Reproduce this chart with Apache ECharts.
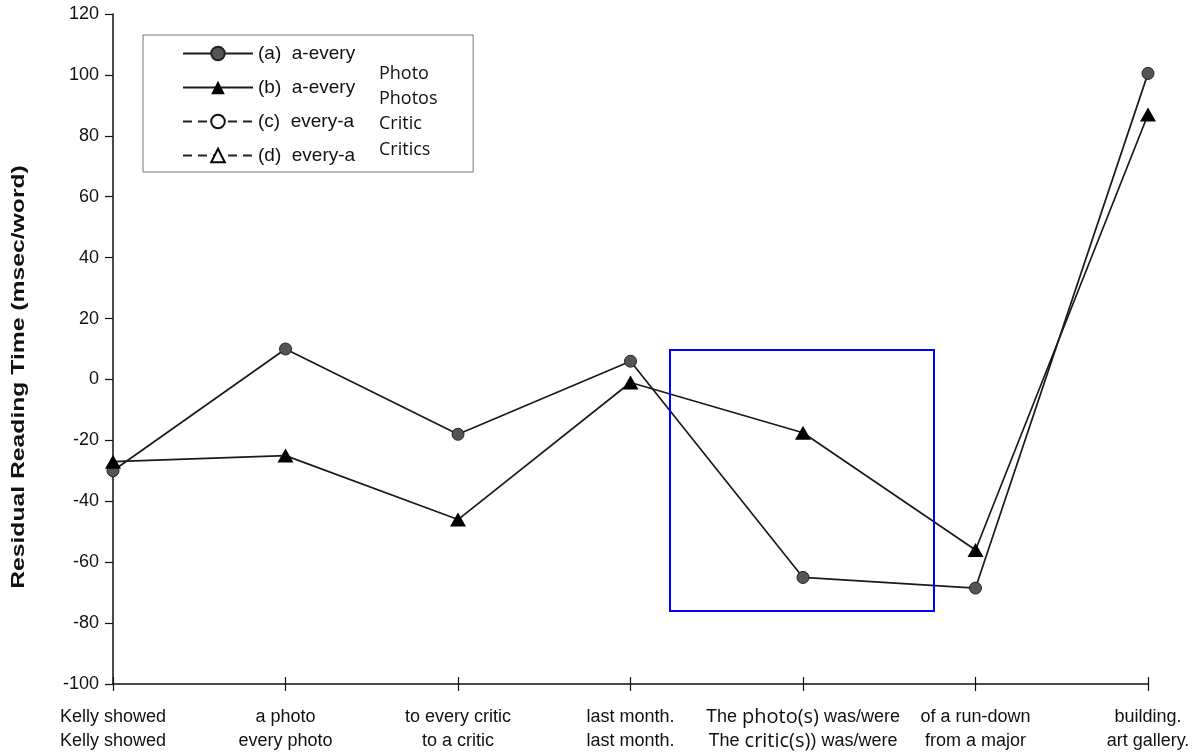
<!DOCTYPE html>
<html>
<head>
<meta charset="utf-8">
<script src="https://cdn.jsdelivr.net/npm/echarts@6/dist/echarts.min.js"></script>
<style>
	html, body { margin: 0; padding: 0; background: #fff; }
	#main { width: 1204px; height: 753px; }
</style>
</head>
<body>
<div id="main"></div>
<script>
var chart = echarts.init(document.getElementById('main'));

// x categories (two lines per position)
var line1 = ['Kelly showed', 'a photo', 'to every critic', 'last month.', 'The photo(s) was/were', 'of a run-down', 'building.'];
var line2 = ['Kelly showed', 'every photo', 'to a critic', 'last month.', 'The critic(s)) was/were', 'from a major', 'art gallery.'];

// residual reading times (msec/word)
var aEvery1 = [-30, 10, -18, 6, -65, -68.5, 100.5];   // (a) circles
var aEvery2 = [-27, -25, -46, -1, -17.5, -56, 87];    // (b) triangles
var everyA1 = [];   // (c) only in legend
var everyA2 = [];   // (d) only in legend

var names = ['(a)  a-every', '(b)  a-every', '(c)  every-a', '(d)  every-a'];
var legendNotes = ['Photo', 'Photos', 'Critic', 'Critics'];

var yMin = -100, yMax = 120, yStep = 20;

var cats = line1.map(function (t, i) { return t + '\n' + line2[i]; });

var font = '"Liberation Sans", Arial, sans-serif';

var option = {
	animation: false,
	backgroundColor: '#fff',
	grid: { left: 113, right: 56, top: 14, bottom: 69 },
	legend: {
		orient: 'vertical',
		left: 143,
		top: 35,
		data: names,
		itemWidth: 70,
		itemHeight: 17,
		itemGap: 15,
		padding: [9, 118, 7, 39],
		borderColor: '#777',
		borderWidth: 1,
		textStyle: { fontFamily: 'Liberation Sans', fontSize: 19, color: '#111' }
	},
	xAxis: [{
		type: 'category',
		data: cats,
		boundaryGap: false,
		axisLine: { onZero: false, lineStyle: { color: '#111', width: 1.5 } },
		axisTick: { show: true, length: 7, lineStyle: { color: '#111', width: 1.2 } },
		axisLabel: {
			interval: 0,
			margin: 21,
			fontFamily: font,
			fontSize: 18,
			lineHeight: 24,
			color: '#111',
			formatter: function (v) {
				return v.replace(/(photo\(s\)|critic\(s\))/g, '{o|$1}');
			},
			rich: {
				o: { fontFamily: '"Open Sans", sans-serif', fontSize: 20, color: '#111', lineHeight: 24 }
			}
		},
		splitLine: { show: false }
	}, {
		type: 'category',
		data: cats,
		boundaryGap: false,
		position: 'bottom',
		axisLine: { show: false, onZero: false },
		axisTick: { show: true, inside: true, length: 7, lineStyle: { color: '#111', width: 1.2 } },
		axisLabel: { show: false },
		splitLine: { show: false }
	}],
	yAxis: {
		type: 'value',
		min: yMin,
		max: yMax,
		interval: yStep,
		axisLine: { show: true, lineStyle: { color: '#111', width: 1.5 } },
		axisTick: { show: true, length: 8, lineStyle: { color: '#111', width: 1.2 } },
		axisLabel: { fontFamily: font, fontSize: 18, color: '#111', margin: 14 },
		splitLine: { show: false }
	},
	series: [{
		name: names[0],
		type: 'line',
		data: aEvery1,
		symbol: 'circle',
		symbolSize: 12,
		lineStyle: { color: '#1a1a1a', width: 1.7 },
		itemStyle: { color: '#555', borderColor: '#222', borderWidth: 1 },
		z: 3
	}, {
		name: names[1],
		type: 'line',
		data: aEvery2,
		symbol: 'triangle',
		symbolSize: [16, 14],
		lineStyle: { color: '#1a1a1a', width: 1.7 },
		itemStyle: { color: '#000' },
		z: 4
	}, {
		name: names[2],
		type: 'line',
		data: everyA1,
		symbol: 'circle',
		symbolSize: 11,
		lineStyle: { color: '#222', width: 1.4, type: [9, 6] },
		itemStyle: { color: '#fff', borderColor: '#111', borderWidth: 1.3 }
	}, {
		name: names[3],
		type: 'line',
		data: everyA2,
		symbol: 'triangle',
		symbolSize: [15, 13],
		lineStyle: { color: '#222', width: 1.4, type: [9, 6] },
		itemStyle: { color: '#fff', borderColor: '#000', borderWidth: 1.6 }
	}],
	graphic: [{
		// y axis title, stretched along its length like the original
		type: 'text',
		x: 19,
		y: 377,
		rotation: Math.PI / 2,
		scaleX: 1.3,
		style: {
			text: 'Residual Reading Time (msec/word)',
			fontFamily: font,
			fontSize: 19,
			fontWeight: 'bold',
			fill: '#111',
			align: 'center',
			verticalAlign: 'middle'
		}
	}, {
		type: 'text',
		left: 379,
		top: 61,
		style: {
			text: legendNotes.join('\n'),
			fontFamily: '"Open Sans", sans-serif',
			fontSize: 18,
			lineHeight: 25.3,
			fill: '#111'
		}
	}, {
		type: 'rect',
		shape: { x: 670, y: 350, width: 264, height: 261 },
		style: { fill: 'none', stroke: '#0000ff', lineWidth: 2 },
		z: 10
	}]
};

chart.setOption(option);
</script>
</body>
</html>
